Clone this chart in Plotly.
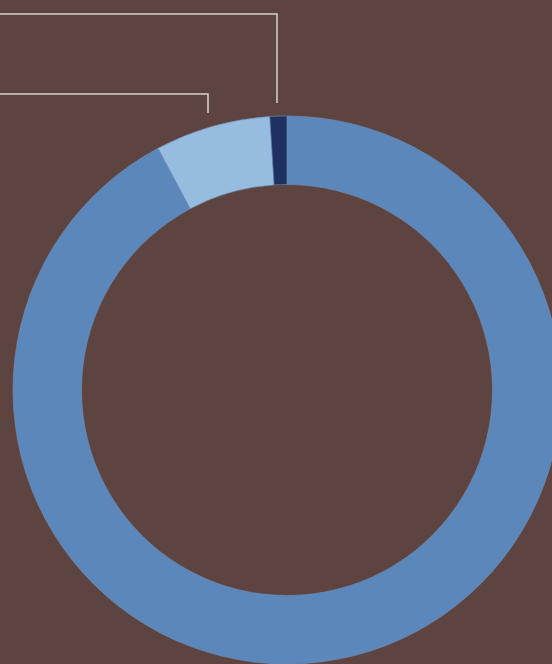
import plotly.graph_objects as go

# Data
categories = ["Main share", "Second share", "Third share"]
values = [92.2, 6.8, 1.0]
colors = ["#5b87bb", "#96bcdf", "#1f3160"]

W, H = 574, 664
BG = "#5e4440"

fig = go.Figure(
    go.Pie(
        labels=categories,
        values=values,
        hole=0.75,
        sort=False,
        direction="clockwise",
        rotation=0,
        marker=dict(colors=colors, line=dict(color="#6f8fb8", width=0.6)),
        textinfo="none",
        hoverinfo="label+percent",
        domain=dict(x=[0, 1], y=[0, 548 / H]),
        showlegend=False,
    )
)

def px(x):
    return x / W

def py(y):
    return 1 - y / H

line_style = dict(color="#d9d1cd", width=1.5)
shapes = [
    dict(type="path", xref="paper", yref="paper",
         path=f"M {px(0)},{py(14)} L {px(277)},{py(14)} L {px(277)},{py(103)}",
         line=line_style),
    dict(type="path", xref="paper", yref="paper",
         path=f"M {px(0)},{py(94)} L {px(208)},{py(94)} L {px(208)},{py(113)}",
         line=line_style),
]

fig.update_layout(
    width=W,
    height=H,
    margin=dict(l=0, r=0, t=0, b=0),
    paper_bgcolor=BG,
    plot_bgcolor=BG,
    shapes=shapes,
)

fig.write_html(
    "out.html",
    config={"displayModeBar": False},
    post_script="document.body.style.margin='0';document.body.style.overflow='hidden';"
                "document.documentElement.style.overflow='hidden';"
                f"document.body.style.background='{BG}';",
)
